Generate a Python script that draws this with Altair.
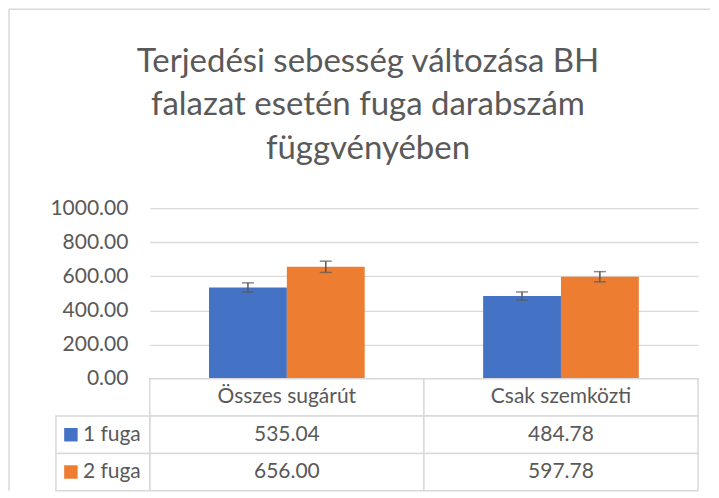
import altair as alt
import pandas as pd

# ---- data ----
categories = ["Összes sugárút", "Csak szemközti"]
series_names = ["1 fuga", "2 fuga"]
values_1 = [535.04, 484.78]
values_2 = [656.00, 597.78]
err_1 = [27.0, 24.0]
err_2 = [33.0, 30.0]
colors = ["#4472c4", "#ed7d31"]
y_ticks = [0, 200, 400, 600, 800, 1000]
title_lines = ["Terjedési sebesség változása BH", "falazat esetén fuga darabszám", "függvényében"]

# ---- tables ----
rows = []
for s, vals, errs in [(series_names[0], values_1, err_1), (series_names[1], values_2, err_2)]:
    for c, v, e in zip(categories, vals, errs):
        rows.append({"cat": c, "series": s, "row": s, "value": v, "low": v - e, "high": v + e})
df = pd.DataFrame(rows)

table_rows = ["header"] + series_names
cells = pd.DataFrame([{"cat": c, "row": r} for r in table_rows for c in categories])
header = pd.DataFrame({"cat": categories, "row": ["header"] * len(categories)})
legend_df = pd.DataFrame({"series": series_names, "row": series_names})

W, H, TH = 549, 171, 112
GRID = "#d9d9d9"
TXT = "#595959"
FONT = "Lato"

x_top = alt.X("cat:N", sort=categories,
              scale=alt.Scale(paddingInner=0.432, paddingOuter=0.216), axis=None)
xo = alt.XOffset("series:N", sort=series_names, scale=alt.Scale(paddingInner=0, paddingOuter=0))
y_scale = alt.Scale(domain=[0, 1000], nice=False)
y_axis = alt.Axis(values=y_ticks, format=".2f", title=None, domain=False, ticks=False,
                  labelPadding=22, labelFontSize=21, labelColor=TXT, labelFont=FONT,
                  labelOverlap=False, labelFlush=False, gridColor=GRID, gridWidth=1.3)
color = alt.Color("series:N", scale=alt.Scale(domain=series_names, range=colors), legend=None)

bars = alt.Chart(df).mark_bar().encode(
    x=x_top, xOffset=xo,
    y=alt.Y("value:Q", scale=y_scale, axis=y_axis, title=None),
    color=color,
)
err_rule = alt.Chart(df).mark_rule(color=TXT, strokeWidth=1.5).encode(
    x=x_top, xOffset=xo, y=alt.Y("low:Q", scale=y_scale, axis=y_axis, title=None), y2="high:Q")
cap_low = alt.Chart(df).mark_tick(color=TXT, thickness=1.5, size=12).encode(
    x=x_top, xOffset=xo, y=alt.Y("low:Q", scale=y_scale, axis=y_axis, title=None))
cap_high = alt.Chart(df).mark_tick(color=TXT, thickness=1.5, size=12).encode(
    x=x_top, xOffset=xo, y=alt.Y("high:Q", scale=y_scale, axis=y_axis, title=None))

# outer chart frame (left and top edges visible in the reference)
frame_left = alt.Chart(header.head(1)).mark_rule(color=GRID, strokeWidth=1.5).encode(
    x=alt.value(-141), y=alt.value(-199), y2=alt.value(H + TH))
frame_top = alt.Chart(header.head(1)).mark_rule(color=GRID, strokeWidth=1.5).encode(
    x=alt.value(-141), x2=alt.value(W + 12), y=alt.value(-199))

top = alt.layer(bars, err_rule, cap_low, cap_high, frame_left, frame_top).properties(width=W, height=H)

# ---- data table ----
x_tab = alt.X("cat:N", sort=categories, scale=alt.Scale(domain=categories, paddingInner=0, paddingOuter=0), axis=None)
y_tab = alt.Y("row:N", sort=table_rows, scale=alt.Scale(domain=table_rows, paddingInner=0, paddingOuter=0), axis=None)

cell_rects = alt.Chart(cells).mark_rect(fill="white", stroke=GRID, strokeWidth=1.5).encode(x=x_tab, y=y_tab)
header_txt = alt.Chart(header).mark_text(font=FONT, fontSize=21, color=TXT).encode(x=x_tab, y=y_tab, text="cat:N")
value_txt = alt.Chart(df).mark_text(font=FONT, fontSize=21, color=TXT).encode(
    x=x_tab, y=y_tab, text=alt.Text("value:Q", format=".2f"))
leg_rects = alt.Chart(legend_df).mark_rect(fill="white", stroke=GRID, strokeWidth=1.5).encode(
    x=alt.value(-94), x2=alt.value(0), y=y_tab)
leg_sq = alt.Chart(legend_df).mark_square(size=182, opacity=1).encode(
    x=alt.value(-79), y=y_tab, color=color)
leg_txt = alt.Chart(legend_df).mark_text(font=FONT, fontSize=21, color=TXT, align="left").encode(
    x=alt.value(-67), y=y_tab, text="series:N")

table = alt.layer(cell_rects, header_txt, value_txt, leg_rects, leg_sq, leg_txt).properties(width=W, height=TH)

chart = alt.vconcat(top, table, spacing=0, bounds="flush").properties(
    title=alt.TitleParams(title_lines, font=FONT, fontSize=33, fontWeight="normal", color=TXT,
                          lineHeight=44, anchor="middle", frame="group", offset=-158, dx=-56),
    padding=0,
).configure(font=FONT, view=alt.ViewConfig(strokeWidth=0, strokeOpacity=0))

chart.save("out.html", embed_options={"renderer": "svg", "actions": False})
